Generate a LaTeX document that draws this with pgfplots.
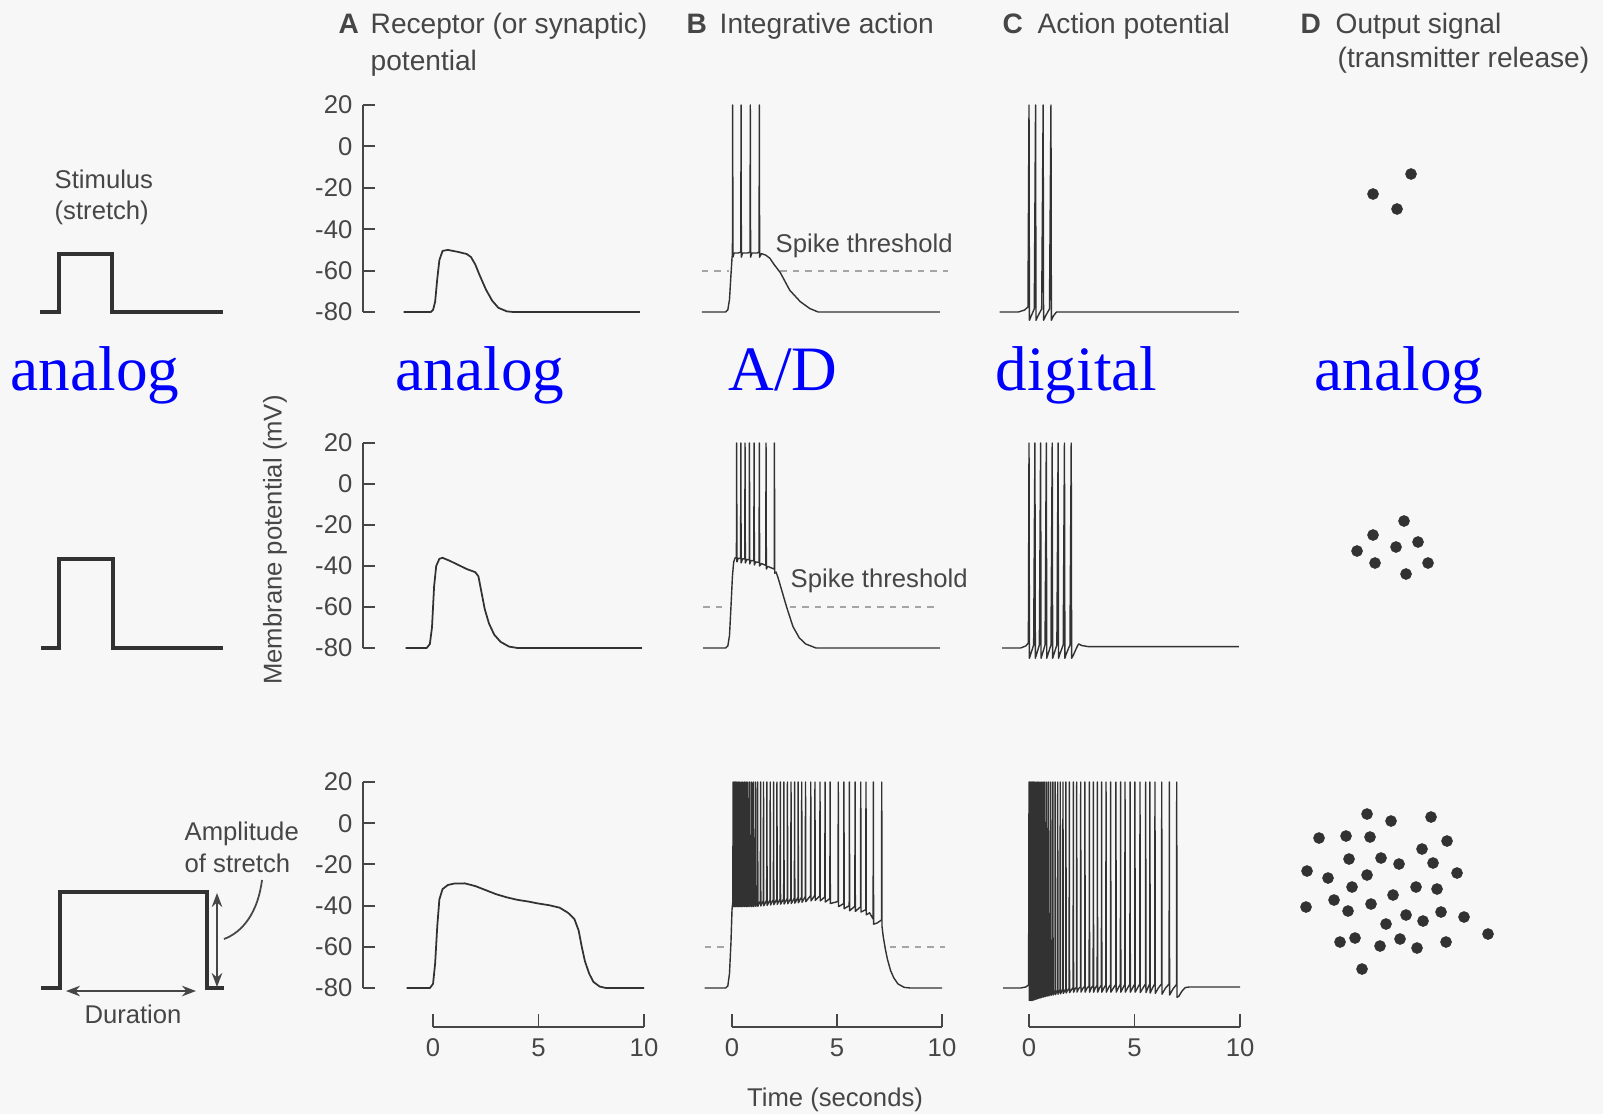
\documentclass[border=0pt]{standalone}
\usepackage{pgfplots}
\pgfplotsset{compat=1.18}
\usepackage{fontspec}
\setmainfont{Liberation Sans}
\newfontfamily\blueserif{Liberation Serif}
\usetikzlibrary{arrows.meta}
\definecolor{bg}{RGB}{247,247,247}
\definecolor{ink}{RGB}{50,50,50}
\definecolor{txt}{RGB}{70,70,70}
\definecolor{thr}{RGB}{165,165,165}
\definecolor{lblue}{RGB}{0,0,255}
\newcommand{\smallfont}{\fontsize{7.3pt}{8.5pt}\selectfont}
\newcommand{\titlefont}{\fontsize{8pt}{9pt}\selectfont}
\newcommand{\bigblue}{\fontsize{18pt}{20pt}\selectfont\blueserif}
\pgfplotsset{
  panel/.style={scale only axis, anchor=south west, xmin=0, xmax=10, ymin=-80, ymax=20, clip=false, hide axis},
  panelA/.style={scale only axis, anchor=south west, width=2.81cm, xmin=-3.32, xmax=10, ymin=-80, ymax=20, clip=false,
     axis x line=none, axis y line*=left, xtick=\empty,
     ytick={-80,-60,-40,-20,0,20}, yticklabels={-80,-60,-40,-20,0,20}, ytick pos=left,
     tick align=inside, major tick length=0.12cm,
     every tick/.style={txt, line width=0.55pt},
     y axis line style={-, txt, line width=0.55pt},
     yticklabel style={font=\smallfont, text=txt, inner sep=0pt, xshift=-0.1cm}},
  xruler/.style={scale only axis, anchor=south west, height=0.3cm, xmin=0, xmax=10, ymin=0, ymax=1,
     axis y line=none, axis x line*=bottom, ytick=\empty,
     xtick={0,5,10}, xticklabels={0,5,10}, xtick pos=bottom,
     tick align=inside, major tick length=0.13cm,
     every tick/.style={txt, line width=0.55pt},
     x axis line style={-, txt, line width=0.55pt},
     xticklabel style={font=\smallfont, text=txt, inner sep=0pt, yshift=-0.11cm}},
  trace/.style={ink, line width=0.5pt, line join=round, mark=none},
  spk/.style={ink, line width=0.4pt, line join=round, mark=none},
  thrl/.style={thr, line width=0.6pt, dash pattern=on 0.065cm off 0.06cm, mark=none},
  stim/.style={ink, line width=1.3pt, line join=miter, mark=none},
}
\begin{document}
\begin{tikzpicture}
\fill[bg] (0,0) rectangle (16.03,11.14);
\useasboundingbox (0,0) rectangle (16.03,11.14);

% ---------- canvas in pixel units ----------
\begin{axis}[scale only axis, at={(0,0)}, anchor=south west, width=16.03cm, height=11.14cm,
  xmin=0, xmax=1603, ymin=0, ymax=1114, y dir=reverse, hide axis, clip=false]
% stimuli
\addplot[stim] coordinates {(40,312)(59,312)(59,254)(112,254)(112,312)(223,312)};
\addplot[stim] coordinates {(41,648)(59,648)(59,559)(113,559)(113,648)(223,648)};
\addplot[stim] coordinates {(41,988)(60,988)(60,892)(207,892)(207,988)(224,988)};
% transmitter release dots
\addplot[only marks, mark=*, mark size=1.45pt, ink] coordinates {(1411,174)(1373,194)(1397,209)};
\addplot[only marks, mark=*, mark size=1.45pt, ink] coordinates {(1404,521)(1373,535)(1418,542)(1396,547)(1357,551)(1375,563)(1428,563)(1406,574)};
\addplot[only marks, mark=*, mark size=1.45pt, ink] coordinates {
(1367,814)(1391,821)(1431,817)(1319,838)(1346,836)(1370,837)(1447,841)(1422,849)
(1349,859)(1381,858)(1399,864)(1433,863)(1307,871)(1328,878)(1367,875)(1457,873)
(1352,887)(1416,887)(1437,889)(1393,895)(1334,900)(1306,907)(1371,904)(1348,911)
(1406,915)(1441,912)(1423,921)(1464,917)(1386,924)(1488,934)(1340,942)(1355,938)
(1380,946)(1400,939)(1417,948)(1446,942)(1362,969)};
% annotations
\draw[txt, line width=0.5pt, {Stealth[length=4pt,width=3pt]}-{Stealth[length=4pt,width=3pt]}] (217,893) -- (217,987);
\draw[txt, line width=0.5pt, {Stealth[length=4pt,width=3pt]}-{Stealth[length=4pt,width=3pt]}] (66,991) -- (196,991);
\draw[txt, line width=0.5pt] (262,880) .. controls (258,912) and (243,932) .. (224,939);
% texts
\node[anchor=base west, font=\titlefont\bfseries, text=txt, inner sep=0pt] at (338,33) {A};
\node[anchor=base west, font=\titlefont, text=txt, inner sep=0pt] at (370,33) {Receptor (or synaptic)};
\node[anchor=base west, font=\titlefont, text=txt, inner sep=0pt] at (370,70) {potential};
\node[anchor=base west, font=\titlefont\bfseries, text=txt, inner sep=0pt] at (686,33) {B};
\node[anchor=base west, font=\titlefont, text=txt, inner sep=0pt] at (719,33) {Integrative action};
\node[anchor=base west, font=\titlefont\bfseries, text=txt, inner sep=0pt] at (1002,33) {C};
\node[anchor=base west, font=\titlefont, text=txt, inner sep=0pt] at (1037,33) {Action potential};
\node[anchor=base west, font=\titlefont\bfseries, text=txt, inner sep=0pt] at (1300,33) {D};
\node[anchor=base west, font=\titlefont, text=txt, inner sep=0pt] at (1335,33) {Output signal};
\node[anchor=base west, font=\titlefont, text=txt, inner sep=0pt] at (1337,67) {(transmitter release)};
\node[anchor=base west, font=\smallfont, text=txt, inner sep=0pt] at (54,188) {Stimulus};
\node[anchor=base west, font=\smallfont, text=txt, inner sep=0pt] at (54,219) {(stretch)};
\node[anchor=base west, font=\smallfont, text=txt, inner sep=0pt] at (184,840) {Amplitude};
\node[anchor=base west, font=\smallfont, text=txt, inner sep=0pt] at (184,872) {of stretch};
\node[anchor=base, font=\smallfont, text=txt, inner sep=0pt] at (133,1023) {Duration};
\node[anchor=base west, font=\smallfont, text=txt, inner sep=0pt] at (775,252) {Spike threshold};
\node[anchor=base west, font=\smallfont, text=txt, inner sep=0pt] at (790,587) {Spike threshold};
\node[rotate=90, font=\smallfont, text=txt, inner sep=0pt] at (275,540) {Membrane potential (mV)};
\node[anchor=base, font=\smallfont, text=txt, inner sep=0pt] at (835,1106) {Time (seconds)};
\node[anchor=base west, font=\bigblue, text=lblue, inner sep=0pt] at (10,390) {analog};
\node[anchor=base west, font=\bigblue, text=lblue, inner sep=0pt] at (395,390) {analog};
\node[anchor=base west, font=\bigblue, text=lblue, inner sep=0pt] at (728,390) {A/D};
\node[anchor=base west, font=\bigblue, text=lblue, inner sep=0pt] at (995,390) {digital};
\node[anchor=base west, font=\bigblue, text=lblue, inner sep=0pt] at (1314,390) {analog};
\end{axis}

% ================= Row 1 =================
\begin{axis}[panelA, at={(3.63cm,8.02cm)}, height=2.07cm]
\addplot[trace] coordinates {(-1.4,-80)(-0.1,-80)(0.0,-79)(0.1,-75)(0.2,-64)(0.3,-55)(0.45,-50.5)(0.7,-50)(1.2,-51)(1.6,-52)(1.8,-53.5)(2.0,-57)(2.2,-62)(2.5,-69)(2.8,-74.5)(3.1,-78)(3.5,-79.7)(3.8,-80)(9.8,-80)};
\end{axis}
\begin{axis}[panel, at={(7.32cm,8.02cm)}, width=2.10cm, height=2.07cm]
\addplot[thrl] coordinates {(-1.43,-60)(-0.12,-60)};
\addplot[thrl] coordinates {(2.3,-60)(10.3,-60)};
\addplot[spk] coordinates {(-1.43,-80)(-0.3,-80)(-0.2,-79)(-0.12,-74)(-0.05,-62)(0.0,-54)(0.02,-52)(0.03,20)(0.045,-53.5)(0.1,-51.5)(0.3,-51.5)(0.42,-51)(0.43,20)(0.445,-53.5)(0.5,-51.5)(0.75,-51.5)(0.86,-51)(0.87,20)(0.885,-53.5)(0.95,-51.5)(1.2,-51.5)(1.29,-51)(1.3,20)(1.315,-53.5)(1.4,-51.8)(1.6,-52.5)(1.8,-54)(2.0,-57)(2.3,-61)(2.75,-69.5)(3.25,-75)(3.7,-78.3)(4.1,-80)(9.9,-80)};
\end{axis}
\begin{axis}[panel, at={(10.29cm,8.02cm)}, width=2.11cm, height=2.07cm]
\addplot[spk] coordinates {(-1.39,-80)(-0.5,-80)(-0.2,-79)(-0.05,-77.5)(0.0,20)(0.02,-84)(0.1,-82)(0.25,-78.5)(0.31,20)(0.33,-84)(0.42,-82)(0.6,-78.5)(0.67,20)(0.69,-84)(0.78,-82)(0.97,-78.5)(1.04,20)(1.06,-84)(1.15,-82)(1.3,-80)(9.95,-80)};
\end{axis}

% ================= Row 2 =================
\begin{axis}[panelA, at={(3.63cm,4.66cm)}, height=2.05cm]
\addplot[trace] coordinates {(-1.3,-80)(-0.3,-80)(-0.15,-78)(-0.05,-70)(0.05,-50)(0.15,-40)(0.3,-36.5)(0.45,-36)(0.8,-37.5)(1.2,-39.5)(1.6,-41.5)(2.0,-43)(2.15,-45)(2.3,-53)(2.45,-61)(2.65,-68)(2.9,-73.5)(3.2,-77)(3.6,-79.3)(4.0,-80)(9.9,-80)};
\end{axis}
\begin{axis}[panel, at={(7.32cm,4.66cm)}, width=2.10cm, height=2.05cm]
\addplot[thrl] coordinates {(-1.38,-60)(-0.19,-60)};
\addplot[thrl] coordinates {(2.76,-60)(9.9,-60)};
\addplot[spk] coordinates {(-1.38,-80)(-0.3,-80)(-0.2,-79)(-0.12,-74)(-0.05,-60)(0.02,-45)(0.08,-38)(0.15,-36)(0.21,-36)(0.22,20)(0.235,-38)(0.3,-36.2)(0.41,-36.3)(0.42,20)(0.435,-38.5)(0.5,-36.5)(0.61,-36.6)(0.62,20)(0.635,-38.5)(0.7,-36.8)(0.82,-37)(0.83,20)(0.845,-39)(0.9,-37.3)(1.04,-37.5)(1.05,20)(1.065,-39.5)(1.12,-38)(1.29,-38.3)(1.3,20)(1.315,-40)(1.4,-38.8)(1.61,-39.7)(1.62,20)(1.635,-41.5)(1.7,-40.2)(2.01,-41.5)(2.02,20)(2.035,-43.5)(2.1,-43)(2.2,-46)(2.4,-53)(2.6,-60)(2.9,-69.5)(3.2,-75)(3.5,-78)(4.0,-80)(9.9,-80)};
\end{axis}
\begin{axis}[panel, at={(10.29cm,4.66cm)}, width=2.11cm, height=2.05cm]
\addplot[spk] coordinates {(-1.28,-80)(-0.4,-80)(-0.15,-79)(-0.03,-77.5)(0.0,20)(0.02,-85)(0.08,-83)(0.22,-78.5)(0.28,20)(0.3,-85)(0.36,-83)(0.49,-78.5)(0.55,20)(0.57,-85)(0.63,-83)(0.76,-78.5)(0.82,20)(0.84,-85)(0.9,-83)(1.04,-78.5)(1.1,20)(1.12,-85)(1.18,-83)(1.32,-78.5)(1.38,20)(1.4,-85)(1.46,-83)(1.62,-78.5)(1.68,20)(1.7,-85)(1.76,-83)(1.94,-78.5)(2.0,20)(2.02,-85)(2.1,-83.5)(2.25,-80)(2.35,-78)(2.5,-78.8)(2.8,-79.3)(9.95,-79.3)};
\end{axis}

% ================= Row 3 =================
\begin{axis}[panelA, at={(3.63cm,1.26cm)}, height=2.06cm]
\addplot[trace] coordinates {(-1.25,-80)(-0.15,-80)(0.0,-78)(0.1,-68)(0.2,-50)(0.3,-37)(0.45,-32)(0.7,-30)(1.0,-29.3)(1.5,-29.2)(2.0,-30.5)(2.5,-32.5)(3.0,-34.5)(3.5,-36)(4.0,-37.2)(4.5,-38)(5.0,-39)(5.5,-39.8)(6.0,-41)(6.4,-43.5)(6.7,-46.5)(6.9,-52)(7.05,-60)(7.2,-67)(7.4,-73)(7.6,-77)(7.9,-79.3)(8.2,-80)(10,-80)};
\end{axis}
\begin{axis}[panel, at={(7.32cm,1.26cm)}, width=2.10cm, height=2.06cm]
\addplot[thrl] coordinates {(-1.3,-60)(-0.1,-60)};
\addplot[thrl] coordinates {(7.52,-60)(10.14,-60)};
\addplot[spk] coordinates {(-1.3,-80)(-0.3,-80)(-0.2,-79)(-0.12,-73)(-0.05,-58)(0.0,-42)(0.04,-38)
(0.05,20)(0.062,-40.5)(0.10,-38)
(0.11,20)(0.122,-40.5)(0.16,-38)
(0.17,20)(0.182,-40.5)(0.22,-38)
(0.23,20)(0.242,-40.5)(0.29,-38)
(0.30,20)(0.312,-40.5)(0.36,-38)
(0.37,20)(0.382,-40.5)(0.43,-38)
(0.44,20)(0.452,-40.5)(0.50,-38)
(0.51,20)(0.522,-40.5)(0.58,-38)
(0.59,20)(0.602,-40.5)(0.66,-38)
(0.67,20)(0.682,-40.5)(0.74,-38)
(0.75,20)(0.762,-40.5)(0.83,-38)
(0.84,20)(0.852,-40.5)(0.92,-38)
(0.93,20)(0.942,-40.5)(1.01,-38)
(1.02,20)(1.032,-40.5)(1.11,-37.9)
(1.12,20)(1.132,-40.4)(1.21,-37.8)
(1.22,20)(1.232,-40.3)(1.35,-37.7)
(1.36,20)(1.372,-40.2)(1.49,-37.6)
(1.50,20)(1.512,-40.1)(1.65,-37.4)
(1.66,20)(1.672,-39.9)(1.81,-37.2)
(1.82,20)(1.832,-39.7)(1.97,-37.0)
(1.98,20)(1.992,-39.5)(2.13,-36.9)
(2.14,20)(2.152,-39.4)(2.29,-36.8)
(2.30,20)(2.312,-39.3)(2.46,-36.7)
(2.47,20)(2.482,-39.2)(2.63,-36.6)
(2.64,20)(2.652,-39.1)(2.80,-36.5)
(2.81,20)(2.822,-39.0)(2.97,-36.3)
(2.98,20)(2.992,-38.8)(3.14,-36.1)
(3.15,20)(3.162,-38.6)(3.31,-35.9)
(3.32,20)(3.332,-38.4)(3.49,-35.6)
(3.50,20)(3.512,-38.1)(3.74,-35.2)
(3.75,20)(3.762,-37.7)(3.94,-35.0)
(3.95,20)(3.962,-37.5)(4.18,-35.2)
(4.19,20)(4.202,-37.7)(4.42,-35.8)
(4.43,20)(4.442,-38.3)(4.66,-36.5)
(4.67,20)(4.682,-39.0)(5.05,-38.0)
(5.06,20)(5.072,-40.5)(5.32,-39.0)
(5.33,20)(5.342,-41.5)(5.58,-40.0)
(5.59,20)(5.602,-42.5)(5.85,-40.3)
(5.86,20)(5.872,-42.8)(6.12,-40.6)
(6.13,20)(6.142,-43.1)(6.37,-42.0)
(6.38,20)(6.392,-44.5)(6.55,-43.5)(6.72,-46.5)
(6.73,20)(6.742,-49.0)(6.9,-48.5)(7.12,-47.0)
(7.13,20)(7.142,-50)(7.2,-55)(7.3,-61)(7.4,-66)(7.55,-71.5)(7.7,-75)(7.9,-78)(8.2,-79.7)(8.5,-80)(10,-80)};
\end{axis}
\begin{axis}[panel, at={(10.29cm,1.26cm)}, width=2.11cm, height=2.06cm]
\addplot[spk] coordinates {(-1.23,-80)(-0.4,-80)(-0.15,-79.5)(-0.02,-78.5)
(0.00,20)(0.012,-86)(0.035,-84)
(0.04,20)(0.052,-86)(0.075,-84)
(0.08,20)(0.092,-86)(0.115,-84)
(0.12,20)(0.132,-86)(0.16,-84)
(0.17,20)(0.182,-86)(0.21,-83.8)
(0.22,20)(0.232,-85.8)(0.26,-83.6)
(0.27,20)(0.282,-85.6)(0.32,-83.4)
(0.33,20)(0.342,-85.4)(0.38,-83.2)
(0.39,20)(0.402,-85.2)(0.44,-83)
(0.45,20)(0.462,-85)(0.51,-82.8)
(0.52,20)(0.532,-84.8)(0.58,-82.6)
(0.59,20)(0.602,-84.6)(0.66,-82.4)
(0.67,20)(0.682,-84.4)(0.74,-82.2)
(0.75,20)(0.762,-84.2)(0.83,-82)
(0.84,20)(0.852,-84)(0.92,-81.8)
(0.93,20)(0.942,-83.8)(1.02,-81.6)
(1.03,20)(1.042,-83.6)(1.12,-81.4)
(1.13,20)(1.142,-83.4)(1.23,-81.2)
(1.24,20)(1.252,-83.2)(1.35,-81)
(1.36,20)(1.372,-83)(1.47,-80.8)
(1.48,20)(1.492,-82.8)(1.60,-80.6)
(1.61,20)(1.622,-82.6)(1.74,-80.4)
(1.75,20)(1.762,-82.4)(1.82,-81.2)(1.90,-80.2)
(1.91,20)(1.922,-82.2)(2.0,-81)(2.09,-79.8)
(2.10,20)(2.112,-82)(2.18,-80.5)(2.25,-79.6)
(2.26,20)(2.272,-82)(2.35,-80.3)(2.44,-79.4)
(2.45,20)(2.462,-82)(2.55,-80.2)(2.64,-79.2)
(2.65,20)(2.662,-82)(2.75,-80)(2.85,-79)
(2.86,20)(2.872,-82)(2.95,-80)(3.04,-78.8)
(3.05,20)(3.062,-82)(3.14,-80)(3.23,-78.7)
(3.24,20)(3.252,-82)(3.34,-80)(3.43,-78.6)
(3.44,20)(3.452,-82)(3.55,-80)(3.64,-78.5)
(3.65,20)(3.662,-82)(3.76,-80)(3.86,-78.4)
(3.87,20)(3.882,-82)(4.0,-80)(4.11,-78.3)
(4.12,20)(4.132,-82)(4.23,-80)(4.33,-78.2)
(4.34,20)(4.352,-82)(4.45,-80)(4.54,-78.2)
(4.55,20)(4.562,-82)(4.67,-80)(4.78,-78.1)
(4.79,20)(4.802,-82)(4.91,-80)(5.01,-78)
(5.02,20)(5.032,-82)(5.14,-80)(5.25,-78)
(5.26,20)(5.272,-82.2)(5.4,-80)(5.52,-78)
(5.53,20)(5.542,-82.2)(5.63,-80)(5.72,-78)
(5.73,20)(5.742,-82.4)(5.85,-80)(5.96,-78)
(5.97,20)(5.982,-82.6)(6.13,-80)(6.28,-78)
(6.29,20)(6.302,-83)(6.47,-80)(6.64,-78)
(6.65,20)(6.662,-83.4)(6.82,-80.5)(6.99,-78.3)
(7.00,20)(7.012,-84.5)(7.1,-84)(7.25,-81.5)(7.4,-79.8)(7.6,-79.5)(10,-79.5)};
\end{axis}

% ================= time rulers =================
\begin{axis}[xruler, at={(4.33cm,0.87cm)}, width=2.11cm]
\addplot[draw=none] coordinates {(0,0)(10,1)};
\end{axis}
\begin{axis}[xruler, at={(7.32cm,0.87cm)}, width=2.10cm]
\addplot[draw=none] coordinates {(0,0)(10,1)};
\end{axis}
\begin{axis}[xruler, at={(10.29cm,0.87cm)}, width=2.11cm]
\addplot[draw=none] coordinates {(0,0)(10,1)};
\end{axis}
\end{tikzpicture}
\end{document}
